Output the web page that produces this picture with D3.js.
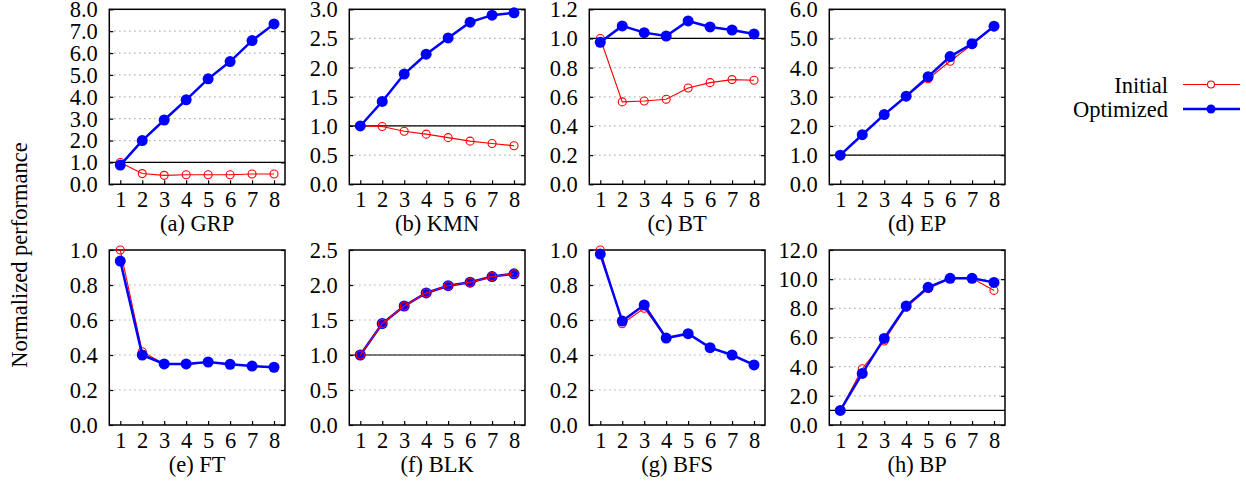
<!DOCTYPE html>
<html>
<head>
<meta charset="utf-8">
<script src="https://d3js.org/d3.v7.min.js"></script>
<style>
    body { margin: 0; background: #fff; }
    svg { display: block; }
</style>
</head>
<body>
<div id="canvas"></div>
<script>
"use strict"

// x axis: number of threads (1..8)
let threads = [1, 2, 3, 4, 5, 6, 7, 8]

let panelLetters = ["a", "b", "c", "d", "e", "f", "g", "h"]
let panelNames = ["GRP", "KMN", "BT", "EP", "FT", "BLK", "BFS", "BP"]

// y range and tick step of each panel
let yMaxes = [8, 3, 1.2, 6, 1.0, 2.5, 1.0, 12]
let ySteps = [1, 0.5, 0.2, 1, 0.2, 0.5, 0.2, 2]

let seriesNames = ["Initial", "Optimized"]

// values, one row per panel
let initialValues = [
    [1.0, 0.49, 0.41, 0.44, 0.44, 0.44, 0.47, 0.47],
    [1.0, 0.99, 0.91, 0.86, 0.80, 0.74, 0.70, 0.66],
    [1.0, 0.565, 0.571, 0.583, 0.66, 0.697, 0.718, 0.713],
    [1.0, 1.70, 2.39, 3.02, 3.62, 4.22, 4.79, 5.42],
    [1.0, 0.419, 0.349, 0.345, 0.36, 0.345, 0.337, 0.33],
    [1.0, 1.45, 1.70, 1.886, 1.99, 2.04, 2.12, 2.16],
    [1.0, 0.579, 0.667, 0.497, 0.522, 0.442, 0.40, 0.343],
    [1.0, 3.86, 5.76, 8.07, 9.35, 10.06, 10.06, 9.23]
]

let optimizedValues = [
    [0.88, 2.0, 2.94, 3.86, 4.82, 5.61, 6.57, 7.33],
    [1.0, 1.42, 1.89, 2.23, 2.51, 2.78, 2.90, 2.94],
    [0.974, 1.086, 1.04, 1.017, 1.12, 1.079, 1.058, 1.031],
    [1.0, 1.70, 2.39, 3.02, 3.69, 4.38, 4.82, 5.42],
    [0.937, 0.40, 0.349, 0.349, 0.36, 0.347, 0.337, 0.33],
    [1.0, 1.45, 1.70, 1.886, 1.99, 2.04, 2.12, 2.16],
    [0.977, 0.594, 0.686, 0.497, 0.522, 0.442, 0.40, 0.343],
    [1.0, 3.54, 5.94, 8.16, 9.44, 10.06, 10.06, 9.78]
]

// panels where the red series is painted over the blue one
let initialOnTop = ["BLK"]

let svgWidth = 1246
let svgHeight = 482
let fontFamily = "'Liberation Serif', 'Times New Roman', serif"
let fontSize = 22.5

let panelLeft = 109.3
let panelPitchX = 240
let panelTops = [9.3, 250]
let panelWidth = 175.7
let panelHeight = 175

let red = "#ff0000"
let blue = "#0000ff"

let svg = d3.select("#canvas")
    .append("svg")
    .attr("width", svgWidth)
    .attr("height", svgHeight)
    .style("font-family", fontFamily)

let xScale = d3.scaleLinear()
    .domain([0.5, 8.5])
    .range([0, panelWidth])

let fmt = d3.format(".1f")

for (let i = 0; i < panelNames.length; i++) {
    let col = i % 4
    let row = Math.floor(i / 4)
    let g = svg.append("g")
        .attr("transform", `translate(${panelLeft + col * panelPitchX},${panelTops[row]})`)
    drawPanel(g, i)
}

function drawPanel(g, i) {
    let yMax = yMaxes[i]
    let step = ySteps[i]
    let yScale = d3.scaleLinear()
        .domain([0, yMax])
        .range([panelHeight, 0])

    let ticks = d3.range(0, Math.round(yMax / step) + 1).map(function (k) { return +(k * step).toFixed(2) })

    // dotted grid
    g.selectAll("line.grid")
        .data(ticks.filter(function (t) { return t > 0 && t < yMax }))
        .join("line")
        .attr("class", "grid")
        .attr("x1", 0)
        .attr("x2", panelWidth)
        .attr("y1", function (t) { return yScale(t) })
        .attr("y2", function (t) { return yScale(t) })
        .attr("stroke", "#999")
        .attr("stroke-width", 1.2)
        .attr("stroke-dasharray", "1.2,3.8")

    // reference line at 1.0
    if (yMax > 1.0) {
        g.append("line")
            .attr("x1", 0)
            .attr("x2", panelWidth)
            .attr("y1", yScale(1))
            .attr("y2", yScale(1))
            .attr("stroke", "#000")
            .attr("stroke-width", 1.2)
    }

    // axes, ticks pointing inward
    let yAxis = d3.axisLeft(yScale)
        .tickValues(ticks)
        .tickSize(-4)
        .tickPadding(11.5)
        .tickFormat(fmt)
    let yg = g.append("g").call(yAxis)

    let yAxisRight = d3.axisRight(yScale)
        .tickValues(ticks)
        .tickSize(-4)
        .tickFormat("")
    let yr = g.append("g")
        .attr("transform", `translate(${panelWidth},0)`)
        .call(yAxisRight)

    let xAxis = d3.axisBottom(xScale)
        .tickValues(threads)
        .tickSize(-4)
        .tickPadding(7)
        .tickFormat(d3.format("d"))
    let xg = g.append("g")
        .attr("transform", `translate(0,${panelHeight})`)
        .call(xAxis)

    for (let a of [yg, yr, xg]) {
        a.select(".domain").remove()
        a.selectAll("line").attr("stroke", "#000").attr("stroke-width", 1.2)
        a.selectAll("text")
            .attr("font-family", fontFamily)
            .attr("font-size", fontSize)
            .attr("fill", "#000")
    }
    yg.selectAll("text").attr("dy", "0.33em")

    // plot border
    g.append("rect")
        .attr("width", panelWidth)
        .attr("height", panelHeight)
        .attr("fill", "none")
        .attr("stroke", "#000")
        .attr("stroke-width", 1.5)

    let line = d3.line()
        .x(function (d, k) { return xScale(threads[k]) })
        .y(function (d) { return yScale(d) })

    let drawInitial = function () {
        g.append("path")
            .attr("d", line(initialValues[i]))
            .attr("fill", "none")
            .attr("stroke", red)
            .attr("stroke-width", 1.1)
        g.selectAll("circle.init")
            .data(initialValues[i])
            .join("circle")
            .attr("class", "init")
            .attr("cx", function (d, k) { return xScale(threads[k]) })
            .attr("cy", function (d) { return yScale(d) })
            .attr("r", 4)
            .attr("fill", "none")
            .attr("stroke", red)
            .attr("stroke-width", 1.1)
    }

    let drawOptimized = function () {
        g.append("path")
            .attr("d", line(optimizedValues[i]))
            .attr("fill", "none")
            .attr("stroke", blue)
            .attr("stroke-width", 2.5)
        g.selectAll("circle.opt")
            .data(optimizedValues[i])
            .join("circle")
            .attr("class", "opt")
            .attr("cx", function (d, k) { return xScale(threads[k]) })
            .attr("cy", function (d) { return yScale(d) })
            .attr("r", 5.5)
            .attr("fill", blue)
    }

    if (initialOnTop.includes(panelNames[i])) {
        drawOptimized()
        drawInitial()
    } else {
        drawInitial()
        drawOptimized()
    }

    // sub caption
    g.append("text")
        .attr("x", panelWidth / 2)
        .attr("y", panelHeight + 47)
        .attr("text-anchor", "middle")
        .attr("font-size", fontSize)
        .text(`(${panelLetters[i]}) ${panelNames[i]}`)
}

// shared y label
svg.append("text")
    .attr("transform", "translate(27,255) rotate(-90)")
    .attr("text-anchor", "middle")
    .attr("font-size", fontSize)
    .text("Normalized performance")

// legend
let legendYs = [84.5, 109]
for (let s = 0; s < seriesNames.length; s++) {
    let y = legendYs[s]
    let isInit = s === 0
    svg.append("text")
        .attr("x", 1168)
        .attr("y", y + 8)
        .attr("text-anchor", "end")
        .attr("font-size", fontSize)
        .text(seriesNames[s])
    svg.append("line")
        .attr("x1", 1183)
        .attr("x2", 1240)
        .attr("y1", y)
        .attr("y2", y)
        .attr("stroke", isInit ? red : blue)
        .attr("stroke-width", isInit ? 1.1 : 2.5)
    svg.append("circle")
        .attr("cx", 1211)
        .attr("cy", y)
        .attr("r", isInit ? 3.5 : 4.5)
        .attr("fill", isInit ? "#fff" : blue)
        .attr("stroke", isInit ? red : "none")
        .attr("stroke-width", 1.1)
}
</script>
</body>
</html>
